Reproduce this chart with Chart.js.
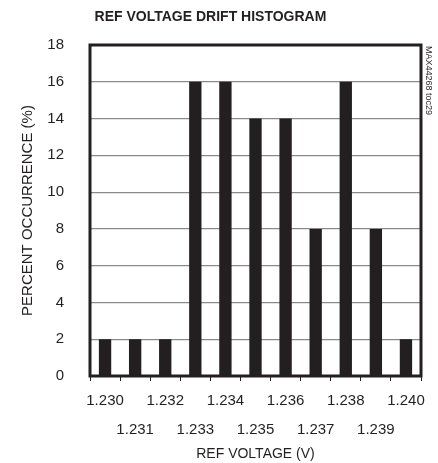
<!DOCTYPE html>
<html>
<head>
<meta charset="utf-8">
<script src="https://cdn.jsdelivr.net/npm/chart.js@4/dist/chart.umd.min.js"></script>
<style>
  html, body { margin: 0; padding: 0; background: #fff; }
  #wrap { width: 438px; height: 463px; }
</style>
</head>
<body>
<div id="wrap"><canvas id="histo"></canvas></div>
<script>
/* ---- data ---- */
const voltages = ['1.230', '1.231', '1.232', '1.233', '1.234', '1.235',
                  '1.236', '1.237', '1.238', '1.239', '1.240'];
const percents = [2, 2, 2, 16, 16, 14, 14, 8, 16, 8, 2];
const yTicks   = [0, 2, 4, 6, 8, 10, 12, 14, 16, 18];

const INK  = '#231f20';
const FONT = "'Liberation Sans', Arial, sans-serif";

Chart.defaults.font.family = FONT;
Chart.defaults.color = INK;

/* frame round the plot + the little part number on the right */
const frame = {
  id: 'frame',
  afterDraw(chart) {
    const { ctx, chartArea: a } = chart;
    ctx.save();
    ctx.strokeStyle = INK;
    ctx.lineWidth = 3;
    ctx.strokeRect(a.left, a.top, a.right - a.left, a.bottom - a.top);

    ctx.translate(a.right + 7, a.top + 1);
    ctx.rotate(Math.PI / 2);
    ctx.fillStyle = INK;
    ctx.font = "9px " + FONT;
    ctx.textAlign = 'left';
    ctx.textBaseline = 'middle';
    ctx.fillText('MAX44268 toc29', 0, 0);
    ctx.restore();
  }
};

new Chart(document.getElementById('histo'), {
  type: 'bar',
  data: {
    labels: voltages,
    datasets: [{
      data: percents,
      backgroundColor: INK,
      borderWidth: 0,
      categoryPercentage: 1,
      barPercentage: 0.41
    }]
  },
  plugins: [frame],
  options: {
    responsive: true,
    maintainAspectRatio: false,
    animation: false,
    layout: { padding: { left: 0, right: 17, top: 0, bottom: 0 } },
    plugins: {
      legend: { display: false },
      tooltip: { enabled: false },
      title: {
        display: true,
        text: 'REF VOLTAGE DRIFT HISTOGRAM',
        color: INK,
        font: { size: 14, weight: 'bold', lineHeight: 1.2 },
        padding: { top: 9, bottom: 19.2 }
      }
    },
    scales: {
      x: {
        offset: true,
        grid: {
          offset: true,
          drawOnChartArea: false,
          drawTicks: true,
          tickLength: 5,
          color: INK,
          lineWidth: 1
        },
        border: { display: false },
        ticks: {
          autoSkip: false,
          maxRotation: 0,
          padding: 5,
          color: INK,
          font: { size: 15, lineHeight: 1.95 },
          // alternate labels between two rows
          callback: (v, i) => i % 2 === 0 ? [voltages[i], ''] : ['', voltages[i]]
        },
        title: {
          display: true,
          text: 'REF VOLTAGE (V)',
          color: INK,
          font: { size: 14 },
          padding: { top: 0, bottom: 0 }
        },
        afterFit: s => { s.height = 87; }
      },
      y: {
        min: 0,
        max: 18,
        afterBuildTicks: s => { s.ticks = yTicks.map(v => ({ value: v })); },
        grid: { color: '#8a8a8a', lineWidth: 1.2, drawTicks: false },
        border: { display: false },
        ticks: {
          padding: 26,
          color: INK,
          font: { size: 15 }
        },
        title: {
          display: true,
          text: 'PERCENT OCCURRENCE (%)',
          color: INK,
          font: { size: 15 },
          padding: { top: 19, bottom: 0 }
        },
        afterFit: s => { s.width = 90; }
      }
    }
  }
});
</script>
</body>
</html>
